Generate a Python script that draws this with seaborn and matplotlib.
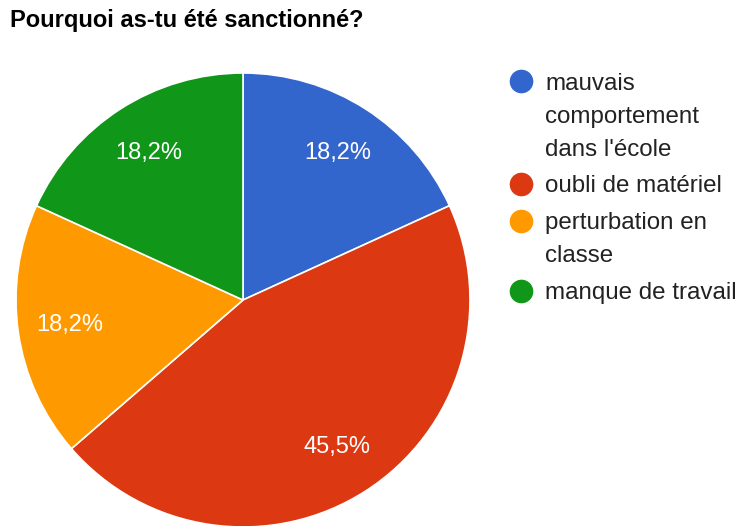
import matplotlib
matplotlib.use("Agg")
import matplotlib.pyplot as plt
from matplotlib.lines import Line2D
import seaborn as sns

sns.set_theme(style="white")
plt.rcParams['font.family'] = ['Liberation Sans', 'DejaVu Sans']

# data: answers counted per reason (2/11 = 18,2 %, 5/11 = 45,5 %)
categories = ["mauvais\ncomportement\ndans l'école", "oubli de matériel",
              "perturbation en\nclasse", "manque de travail"]
counts = [2, 5, 2, 2]
colors = ["#3366cc", "#dc3912", "#ff9900", "#109618"]

W, H = 743, 526
fig = plt.figure(figsize=(W / 100, H / 100), dpi=100)
ax = fig.add_axes([16 / W, (226 - 227) / H, 454 / W, 454 / H])

wedges, texts, autotexts = ax.pie(
    counts, colors=colors, startangle=90, counterclock=False, radius=1,
    autopct=lambda p: f"{p:.1f}%".replace('.', ','), pctdistance=0.77,
    wedgeprops=dict(edgecolor="white", linewidth=1.2),
    textprops=dict(color="white", fontsize=17))
ax.set_xlim(-1, 1)
ax.set_ylim(-1, 1)
ax.set_aspect('equal')
ax.axis('off')

fig.text(10 / W, 1 - 21 / H, "Pourquoi as-tu été sanctionné?", fontsize=17,
         fontweight='bold', va='center', ha='left', color='black')

# legend drawn by hand: marker aligned with the first line of each entry
line_h = 33
y = 81
for label, c in zip(categories, colors):
    fig.add_artist(Line2D([521 / W], [1 - y / H], marker='o', linestyle='',
                          markersize=16, markerfacecolor=c, markeredgecolor=c,
                          transform=fig.transFigure))
    for i, line in enumerate(label.split('\n')):
        fig.text(545 / W, 1 - (y + i * line_h) / H, line, fontsize=17.4,
                 va='center_baseline', ha='left', color='#222222')
    y += line_h * len(label.split('\n')) + 4

fig.savefig("out.png", dpi=100)
